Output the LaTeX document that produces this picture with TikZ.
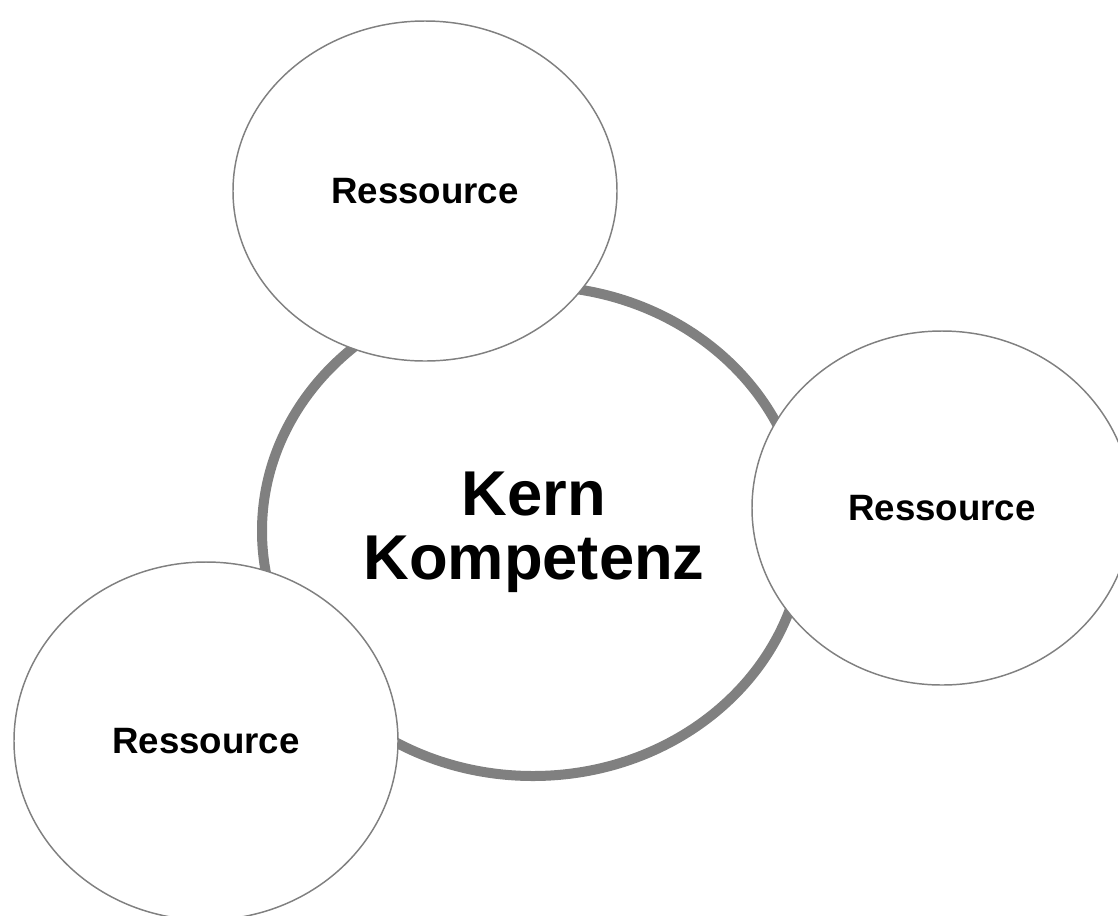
\documentclass[tikz,border=0pt]{standalone}
\usepackage{fontspec}
\setmainfont{Liberation Sans}
\usetikzlibrary{shapes.geometric}
\definecolor{ringgray}{HTML}{808080}
\begin{document}
\begin{tikzpicture}[x=0.75pt,y=-0.75pt,
  core/.style={ellipse,draw=ringgray,line width=7.5pt,fill=white,inner sep=0pt,
    minimum width=406.5pt,minimum height=367.5pt},
  res/.style={ellipse,draw=ringgray,line width=1.1pt,fill=white,inner sep=0pt,
    font=\bfseries\fontsize{27.5pt}{33pt}\selectfont},
  coretext/.style={align=center,inner sep=0pt,font=\bfseries\fontsize{47.5pt}{48pt}\selectfont}]
\useasboundingbox (0,0) rectangle (1118,915);
\node[core] (k) at (533,531) {};
\node[coretext] (kt) at (534,532) {Kern\\Kompetenz};
\node[res,minimum width=288pt,minimum height=255pt] (r1) at (425,191) {Ressource};
\node[res,minimum width=285pt,minimum height=265.5pt] (r2) at (942,508) {Ressource};
\node[res,minimum width=288pt,minimum height=268.5pt] (r3) at (206,741) {Ressource};
\end{tikzpicture}
\end{document}
